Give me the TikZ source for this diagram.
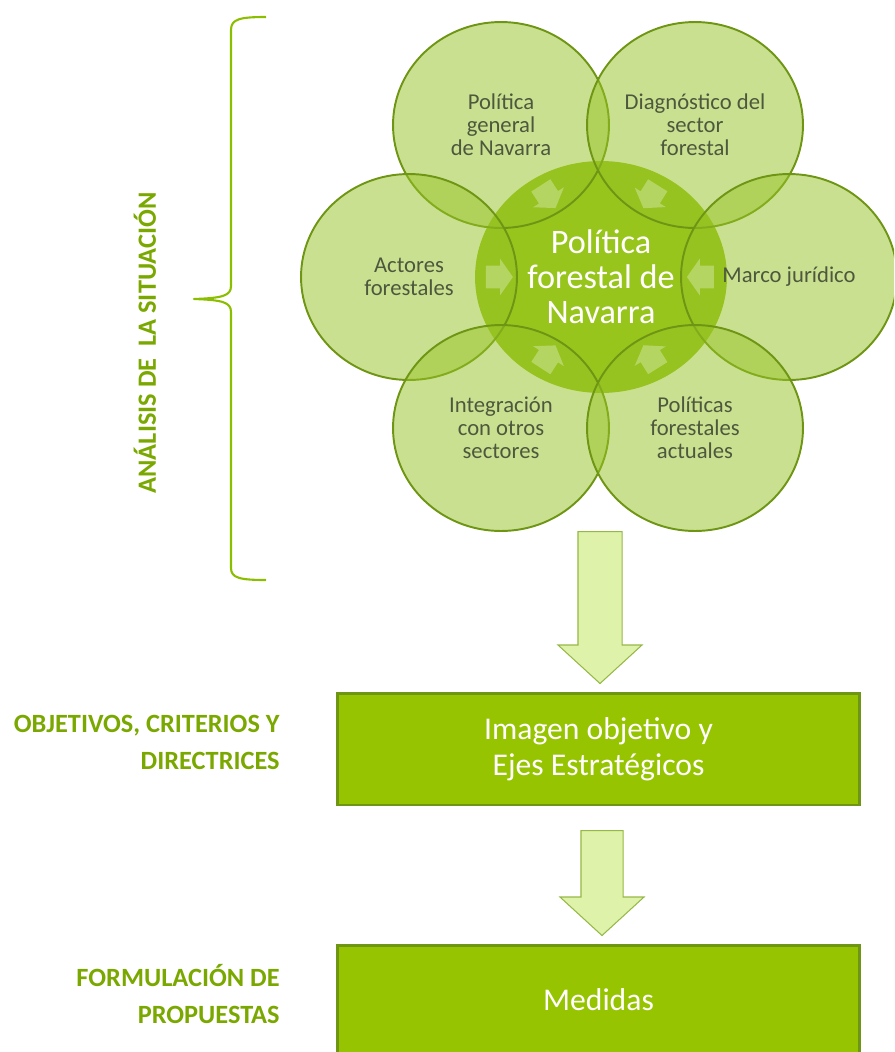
\documentclass[tikz,border=0pt]{standalone}
\usepackage{fontspec}
\setmainfont{Carlito}
\usetikzlibrary{shapes.geometric}
\usetikzlibrary{shapes.arrows}
\usetikzlibrary{positioning}
\usetikzlibrary{calc}
\definecolor{verde}{RGB}{150,196,0}
\definecolor{verdeborde}{RGB}{110,150,20}
\definecolor{verdeclaro}{RGB}{150,194,36}
\definecolor{verdecentro}{RGB}{152,197,28}
\definecolor{verdeletra}{RGB}{122,168,0}
\definecolor{verdellave}{RGB}{140,190,0}
\definecolor{textoscuro}{RGB}{78,88,60}
\definecolor{flechaclara}{RGB}{222,242,170}
\definecolor{flechaborde}{RGB}{150,185,70}
\tikzset{
    petalo/.style = {ellipse, draw=verdeborde, line width=1.1pt, fill=verdeclaro, fill opacity=0.5, text opacity=1, minimum width=4.32cm, minimum height=4.12cm, inner sep=0pt, align=center, text=textoscuro, font=\fontsize{12.9}{13.2}\selectfont},
    nucleo/.style = {ellipse, fill=verdecentro, minimum width=5.04cm, minimum height=4.64cm, inner sep=0pt},
    nucleotxt/.style = {align=center, text=white, font=\fontsize{19.5}{20}\selectfont},
    flechita/.style = {single arrow, fill=white, fill opacity=0.3, minimum height=0.54cm, inner xsep=0pt, inner ysep=0.22cm, single arrow head extend=0.14cm, single arrow tip angle=110},
    flechagrande/.style = {single arrow, draw=flechaborde, line width=0.6pt, fill=flechaclara, inner xsep=0pt, inner ysep=0.43cm, single arrow head extend=0.4cm, single arrow tip angle=95, rotate=-90, anchor=tail},
    caja/.style = {rectangle, draw=verdeborde, line width=1.7pt, fill=verde, minimum width=10.46cm, align=center, text=white, font=\fontsize{18}{20.5}\selectfont},
    etiqueta/.style = {align=right, anchor=east, inner sep=0pt, text=verdeletra, font=\bfseries\fontsize{15}{21}\selectfont},
    llave/.style = {draw=verdellave, line width=1.2pt, line join=round}
}

\begin{document}
\begin{tikzpicture}[x=0.02cm, y=-0.02cm]
  \clip (0,0) rectangle (894,1052);

  % flor central
  \node[nucleo] (centro) at (601,277) {};
  \node[petalo] (pg) at (501,125) {Política\\general\\de Navarra};
  \node[petalo] (ds) at (695,125) {Diagnóstico del\\sector\\forestal};
  \node[petalo] (af) at (409,277) {Actores\\forestales};
  \node[petalo] (mj) at (789,277) {Marco jurídico};
  \node[petalo] (io) at (501,428) {Integración\\con otros\\sectores};
  \node[petalo] (pf) at (695,428) {Políticas\\forestales\\actuales};

  \foreach \p/\a in {pg/-57, ds/-122, af/0, mj/180, io/57, pf/122}
    \node[flechita, rotate=\a] (f\p) at ($(centro)!0.55!(\p)$) {};

  \node[nucleotxt] (centrotxt) at (centro) {Política\\forestal de\\Navarra};

  % llave y etiquetas
  \draw[llave] (266,17) .. controls (240,17) and (231,19) .. (231,30) -- (231,286)
    .. controls (231,296) and (222,298) .. (194,299)
    .. controls (222,300) and (231,302) .. (231,312) -- (231,568)
    .. controls (231,578) and (240,580) .. (266,580);
  \node[etiqueta, anchor=center, rotate=90] (analisis) at (145,343) {ANÁLISIS DE\ \ LA SITUACIÓN};
  \node[etiqueta] (objetivos) at (280,742) {OBJETIVOS, CRITERIOS Y\\DIRECTRICES};
  \node[etiqueta] (formulacion) at (280,994) {FORMULACIÓN DE\\PROPUESTAS};

  % cajas y flechas
  \node[flechagrande, minimum height=3.04cm] (flecha1) at (600,531) {};
  \node[caja, minimum height=2.24cm] (imagen) at (598.5,749) {Imagen objetivo y\\Ejes Estratégicos};
  \node[flechagrande, minimum height=2.1cm, inner ysep=0.41cm, single arrow head extend=0.42cm] (flecha2) at (602,830) {};
  \node[caja, minimum height=2.2cm] (medidas) at (598.5,1000) {Medidas};
\end{tikzpicture}
\end{document}
